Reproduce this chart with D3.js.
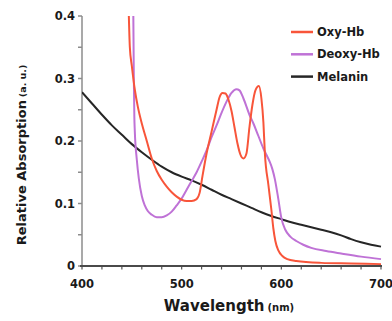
<!DOCTYPE html>
<html>
<head>
<meta charset="utf-8">
<script src="https://cdn.jsdelivr.net/npm/d3@7"></script>
<style>
  body { margin: 0; background: #fff; }
  text { font-family: "DejaVu Sans", sans-serif; font-weight: bold; fill: #1a1a1a; }
</style>
</head>
<body>
<div id="chart"></div>
<script>
// spectra: [wavelength nm, relative absorption]
const oxyHb = [
  [447, 0.40], [448, 0.35], [450, 0.32], [453, 0.282], [456, 0.255], [460, 0.228],
  [465, 0.200], [470, 0.172], [475, 0.152], [480, 0.138], [485, 0.127], [490, 0.118],
  [495, 0.111], [500, 0.106], [505, 0.104], [510, 0.104], [515, 0.107], [518, 0.117],
  [521, 0.145], [525, 0.180], [530, 0.215], [535, 0.250], [538, 0.270], [541, 0.277],
  [544, 0.276], [547, 0.266], [550, 0.248], [553, 0.222], [556, 0.196], [559, 0.178],
  [562, 0.172], [565, 0.180], [568, 0.222], [571, 0.258], [574, 0.281], [577.5, 0.288],
  [580, 0.268], [582, 0.230], [583.5, 0.180], [587, 0.130], [590, 0.090], [592, 0.060],
  [594, 0.040], [597, 0.025], [601, 0.016], [606, 0.011], [615, 0.008], [640, 0.005],
  [670, 0.004], [700, 0.003]
];
const deoxyHb = [
  [451.5, 0.40], [452, 0.30], [452.5, 0.24], [453, 0.215], [455, 0.170], [457, 0.140],
  [460, 0.112], [463, 0.097], [466, 0.088], [470, 0.082], [475, 0.078], [480, 0.078],
  [485, 0.081], [490, 0.087], [495, 0.097], [500, 0.108], [505, 0.122], [510, 0.136],
  [515, 0.150], [520, 0.167], [525, 0.185], [530, 0.206], [535, 0.225], [540, 0.245],
  [545, 0.263], [550, 0.277], [555, 0.283], [558, 0.281], [562, 0.268], [568, 0.242],
  [572, 0.228], [577, 0.208], [582, 0.188], [585, 0.178], [588, 0.168], [591, 0.155],
  [593.5, 0.139], [597, 0.107], [600, 0.077], [604, 0.058], [609, 0.047], [615, 0.040],
  [622, 0.034], [630, 0.029], [645, 0.024], [660, 0.020], [680, 0.015], [700, 0.011]
];
const melanin = [
  [400, 0.278], [410, 0.260], [420, 0.242], [430, 0.225], [440, 0.210], [450, 0.195],
  [460, 0.182], [470, 0.170], [480, 0.159], [490, 0.150], [500, 0.143], [510, 0.137],
  [520, 0.130], [530, 0.122], [540, 0.114], [550, 0.107], [560, 0.100], [570, 0.093],
  [580, 0.086], [590, 0.080], [600, 0.075], [610, 0.070], [620, 0.066], [630, 0.062],
  [640, 0.058], [650, 0.054], [660, 0.049], [670, 0.043], [680, 0.038], [690, 0.034],
  [700, 0.031]
];
const seriesNames = ['Oxy-Hb', 'Deoxy-Hb', 'Melanin'];
const seriesColors = ['#f8553a', '#bf72d6', '#262626'];
const xTicks = [400, 500, 600, 700];
const yTicks = [0, 0.1, 0.2, 0.3, 0.4];
const yTickLabels = ['0', '0.1', '0.2', '0.3', '0.4'];

const width = 392, height = 321;
const svg = d3.select('#chart').append('svg')
  .attr('width', width).attr('height', height);

const x = d3.scaleLinear().domain([400, 700]).range([82, 381]);
const y = d3.scaleLinear().domain([0, 0.4]).range([266, 16]);

svg.append('defs').append('clipPath').attr('id', 'plot')
  .append('rect').attr('x', x(400)).attr('y', y(0.4))
  .attr('width', x(700) - x(400) + 2).attr('height', y(0) - y(0.4));

// y axis
const yAxis = svg.append('g').attr('transform', `translate(${x(400)},0)`);
yAxis.append('line').attr('y1', y(0.4)).attr('y2', y(0))
  .attr('stroke', '#8c8c8c').attr('stroke-width', 1.5);
yAxis.selectAll('line.tick')
  .data(d3.range(0, 0.401, 0.05))
  .join('line').attr('class', 'tick')
  .attr('x1', -4).attr('x2', 0)
  .attr('y1', d => y(d)).attr('y2', d => y(d))
  .attr('stroke', '#8c8c8c').attr('stroke-width', 1.5);
yAxis.selectAll('text')
  .data(yTicks)
  .join('text')
  .attr('x', -7).attr('y', d => y(d))
  .attr('text-anchor', 'end').attr('dominant-baseline', 'central')
  .style('font-size', '11.5px')
  .text((d, i) => yTickLabels[i]);

// x axis
const xAxis = svg.append('g').attr('transform', `translate(0,${y(0)})`);
xAxis.selectAll('line.tick')
  .data(d3.range(400, 701, 20))
  .join('line').attr('class', 'tick')
  .attr('x1', d => x(d)).attr('x2', d => x(d))
  .attr('y1', 0).attr('y2', 3.5)
  .attr('stroke', '#555').attr('stroke-width', 1.2);
xAxis.selectAll('text')
  .data(xTicks)
  .join('text')
  .attr('x', d => x(d)).attr('y', 18)
  .attr('text-anchor', 'middle').attr('dominant-baseline', 'central')
  .style('font-size', '11.5px')
  .text(d => d);

// curves
const line = d3.line()
  .x(d => x(d[0])).y(d => y(d[1]))
  .curve(d3.curveMonotoneX);

const plot = svg.append('g').attr('clip-path', 'url(#plot)');
[melanin, deoxyHb, oxyHb].forEach((s, i) => {
  const k = 2 - i;
  plot.append('path')
    .datum(s)
    .attr('d', line)
    .attr('fill', 'none')
    .attr('stroke', seriesColors[k])
    .attr('stroke-width', 2)
    .attr('stroke-linejoin', 'round');
});

svg.append('line')
  .attr('x1', 80).attr('x2', x(700) + 1)
  .attr('y1', y(0)).attr('y2', y(0))
  .attr('stroke', '#4a4a4a').attr('stroke-width', 2);

// legend
const legend = svg.append('g').attr('transform', 'translate(291,32)');
seriesNames.forEach((name, i) => {
  const row = legend.append('g').attr('transform', `translate(0,${i * 22.3})`);
  row.append('line').attr('x1', 0).attr('x2', 22)
    .attr('stroke', seriesColors[i]).attr('stroke-width', 2.5);
  row.append('text').attr('x', 26).attr('y', 0)
    .attr('dominant-baseline', 'central')
    .style('font-size', '11.5px')
    .text(name);
});

// axis titles
const xt = svg.append('text')
  .attr('x', 229).attr('y', 311)
  .attr('text-anchor', 'middle');
xt.append('tspan').style('font-size', '15px').text('Wavelength');
xt.append('tspan').style('font-size', '10px').attr('dx', 3).text('(nm)');

const yt = svg.append('text')
  .attr('transform', 'translate(26,155) rotate(-90)')
  .attr('text-anchor', 'middle');
yt.append('tspan').style('font-size', '13px').text('Relative Absorption');
yt.append('tspan').style('font-size', '9.5px').attr('dx', 3).text('(a. u.)');
</script>
</body>
</html>
